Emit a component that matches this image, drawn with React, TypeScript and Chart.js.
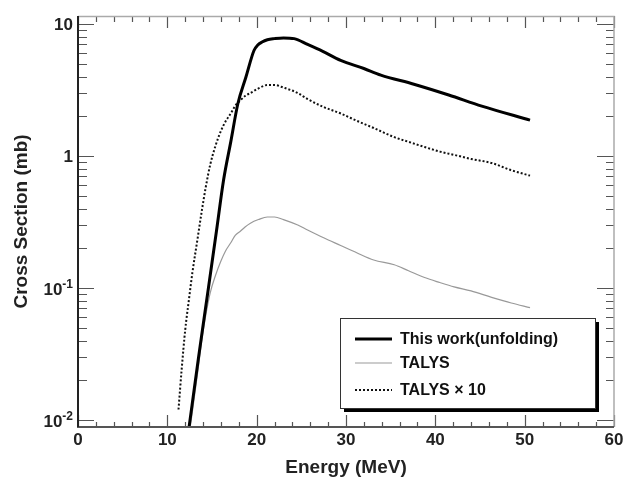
import React, { useEffect, useRef } from "react";
import { Chart, registerables } from "chart.js";

Chart.register(...registerables);

// ---- Data ----
const workEnergy = [12.4, 13.5, 14.6, 15.5, 16.3, 17.1, 17.9, 18.8, 19.7, 20.1, 20.6, 21.2, 22.0, 23.0, 24.2, 25.7, 27.4, 29.4, 32.0, 33.9, 37.6, 41.5, 45.2, 50.6];
const workValues = [0.0085, 0.03, 0.1, 0.27, 0.66, 1.28, 2.5, 3.97, 6.3, 6.9, 7.3, 7.6, 7.75, 7.85, 7.75, 7.0, 6.2, 5.3, 4.6, 4.1, 3.5, 2.9, 2.39, 1.87];

const talysEnergy = [12.0, 12.8, 13.4, 13.9, 14.3, 14.8, 15.4, 16.0, 16.5, 17.1, 17.6, 18.2, 18.7, 19.3, 20.2, 21.2, 22.0, 23.0, 24.6, 25.7, 27.5, 29.4, 31.2, 33.1, 35.4, 37.0, 38.8, 40.5, 42.1, 44.0, 46.3, 48.5, 50.6];
const talysValues = [0.0048, 0.0115, 0.023, 0.042, 0.062, 0.092, 0.125, 0.16, 0.19, 0.22, 0.25, 0.27, 0.29, 0.31, 0.33, 0.345, 0.345, 0.33, 0.3, 0.275, 0.24, 0.21, 0.185, 0.163, 0.15, 0.135, 0.12, 0.11, 0.102, 0.095, 0.085, 0.077, 0.071];

const talys10Energy = [11.25, 11.6, 12.0, 12.4, 12.8, 13.4, 13.9, 14.3, 14.8, 15.4, 16.0, 16.5, 17.1, 17.6, 18.2, 18.7, 19.3, 20.2, 21.2, 22.0, 23.0, 24.6, 25.7, 27.5, 29.4, 31.2, 33.1, 35.4, 37.0, 38.8, 40.5, 42.1, 44.0, 46.3, 48.5, 50.6];
const talys10Values = [0.012, 0.024, 0.048, 0.08, 0.13, 0.24, 0.4, 0.58, 0.86, 1.2, 1.55, 1.82, 2.1, 2.4, 2.65, 2.85, 3.0, 3.25, 3.45, 3.45, 3.3, 3.0, 2.7, 2.35, 2.1, 1.85, 1.63, 1.39, 1.28, 1.17, 1.08, 1.02, 0.95, 0.885, 0.78, 0.71];

const seriesLabels = ["This work(unfolding)", "TALYS", "TALYS \u00d7 10"];
const xTickValues = [0, 10, 20, 30, 40, 50, 60];
const yTickValues = [0.01, 0.1, 1, 10];
const yTickBase = ["10", "10", "1", "10"];
const yTickExp = ["-2", "-1", "", ""];
const xTitle = "Energy (MeV)";
const yTitle = "Cross Section (mb)";

const FONT = "'Liberation Sans', Arial, Helvetica, sans-serif";

const toPoints = (xs: number[], ys: number[]) => xs.map((x, i) => ({ x, y: ys[i] }));

const decorPlugin = {
  id: "decor",
  afterDraw(chart: any) {
    const { ctx, chartArea } = chart;
    const xs = chart.scales.x;
    const ys = chart.scales.y;
    const { left, right, top, bottom } = chartArea;
    ctx.save();

    // ticks
    ctx.strokeStyle = "#555";
    ctx.lineWidth = 1.2;
    for (let v = 0; v <= 60; v += 2) {
      const px = Math.round(xs.getPixelForValue(v)) + 0.5;
      const major = v % 10 === 0;
      ctx.beginPath();
      ctx.moveTo(px, bottom);
      ctx.lineTo(px, bottom - (major ? 12 : 5));
      ctx.moveTo(px, top);
      ctx.lineTo(px, top + (major ? 12 : 6));
      ctx.stroke();
    }
    for (let d = -3; d <= 1; d++) {
      for (let m = 1; m <= 9; m++) {
        const v = m * Math.pow(10, d);
        if (v < ys.min * 1.02 || v > ys.max) continue;
        const py = Math.round(ys.getPixelForValue(v)) + 0.5;
        const major = m === 1;
        ctx.beginPath();
        ctx.moveTo(left, py);
        ctx.lineTo(left + (major ? 16 : 9), py);
        ctx.moveTo(right, py);
        ctx.lineTo(right - (major ? 17 : 8), py);
        ctx.stroke();
      }
    }

    // frame
    ctx.strokeStyle = "#aaa";
    ctx.lineWidth = 1.5;
    ctx.beginPath();
    ctx.moveTo(left, top + 0.5);
    ctx.lineTo(right, top + 0.5);
    ctx.lineTo(right, bottom);
    ctx.stroke();
    ctx.strokeStyle = "#555";
    ctx.lineWidth = 2;
    ctx.beginPath();
    ctx.moveTo(left - 1, bottom);
    ctx.lineTo(right, bottom);
    ctx.stroke();
    ctx.strokeStyle = "#222";
    ctx.beginPath();
    ctx.moveTo(left, top);
    ctx.lineTo(left, bottom);
    ctx.stroke();

    // tick labels
    ctx.fillStyle = "#222";
    ctx.font = `bold 17px ${FONT}`;
    ctx.textAlign = "center";
    ctx.textBaseline = "middle";
    xTickValues.forEach((v) => {
      ctx.fillText(String(v), xs.getPixelForValue(v), bottom + 13);
    });
    yTickValues.forEach((v, i) => {
      const py = ys.getPixelForValue(v);
      const rightEdge = left - 5;
      ctx.textAlign = "right";
      if (yTickExp[i]) {
        ctx.font = `bold 12px ${FONT}`;
        const ew = ctx.measureText(yTickExp[i]).width;
        ctx.fillText(yTickExp[i], rightEdge, py - 3);
        ctx.font = `bold 17px ${FONT}`;
        ctx.fillText(yTickBase[i], rightEdge - ew, py + 2);
      } else {
        ctx.font = `bold 17px ${FONT}`;
        ctx.fillText(yTickBase[i], rightEdge, py + 1);
      }
    });

    // axis titles
    ctx.font = `bold 19px ${FONT}`;
    ctx.textAlign = "center";
    ctx.textBaseline = "middle";
    ctx.fillText(xTitle, (left + right) / 2, bottom + 41);
    ctx.save();
    ctx.translate(22, (top + bottom) / 2);
    ctx.rotate(-Math.PI / 2);
    ctx.fillText(yTitle, 0, 0);
    ctx.restore();

    // legend
    const bx = 340, by = 318, bw = 255, bh = 90;
    ctx.fillStyle = "#000";
    ctx.fillRect(bx + 4, by + 4, bw, bh);
    ctx.fillStyle = "#fff";
    ctx.fillRect(bx, by, bw, bh);
    ctx.strokeStyle = "#333";
    ctx.lineWidth = 1;
    ctx.strokeRect(bx + 0.5, by + 0.5, bw, bh);
    const rows = [339, 363, 390];
    chart.data.datasets.forEach((ds: any, i: number) => {
      const y = rows[i];
      ctx.strokeStyle = ds.borderColor;
      ctx.lineWidth = ds.borderWidth;
      ctx.setLineDash(ds.borderDash || []);
      ctx.beginPath();
      ctx.moveTo(355, y);
      ctx.lineTo(392, y);
      ctx.stroke();
      ctx.setLineDash([]);
      ctx.fillStyle = "#111";
      ctx.font = `bold 16px ${FONT}`;
      ctx.textAlign = "left";
      ctx.textBaseline = "middle";
      ctx.fillText(ds.label, 400, y + 1);
    });

    ctx.restore();
  },
};

export default function App() {
  const ref = useRef<HTMLCanvasElement | null>(null);
  useEffect(() => {
    if (!ref.current) return;
    const chart = new Chart(ref.current, {
      type: "line",
      data: {
        datasets: [
          {
            label: seriesLabels[0],
            data: toPoints(workEnergy, workValues),
            borderColor: "#000",
            borderWidth: 3,
            pointRadius: 0,
            cubicInterpolationMode: "monotone",
            fill: false,
          },
          {
            label: seriesLabels[1],
            data: toPoints(talysEnergy, talysValues),
            borderColor: "#999",
            borderWidth: 1.2,
            pointRadius: 0,
            cubicInterpolationMode: "monotone",
            fill: false,
          },
          {
            label: seriesLabels[2],
            data: toPoints(talys10Energy, talys10Values),
            borderColor: "#111",
            borderWidth: 2,
            borderDash: [2, 2],
            pointRadius: 0,
            cubicInterpolationMode: "monotone",
            fill: false,
          },
        ],
      },
      options: {
        animation: false,
        responsive: false,
        devicePixelRatio: 1,
        layout: { padding: { left: 78, right: 11, top: 16, bottom: 50 } },
        plugins: { legend: { display: false }, tooltip: { enabled: false } },
        scales: {
          x: { type: "linear", min: 0, max: 60, display: false },
          y: { type: "logarithmic", min: 0.00885, max: 11.5, display: false },
        },
      },
      plugins: [decorPlugin],
    });
    return () => chart.destroy();
  }, []);
  return (
    <div style={{ position: "absolute", left: 0, top: 0, width: 625, height: 477, background: "#fff" }}>
      <canvas ref={ref} width={625} height={477} />
    </div>
  );
}
